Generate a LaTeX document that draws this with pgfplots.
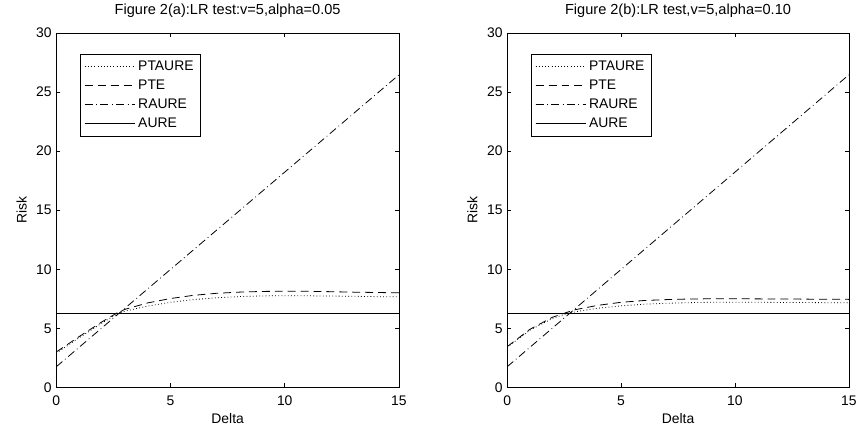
\documentclass[border=0pt]{standalone}
\usepackage{pgfplots}
\pgfplotsset{compat=1.18}
\usepackage{fontspec}
\setmainfont{Liberation Sans}
\begin{document}
\pgfplotsset{
  mystyle/.style={
    scale only axis,
    width=258.75pt, height=267.75pt,
    xmin=0, xmax=15, ymin=0, ymax=30,
    xtick={0,5,10,15}, ytick={0,5,10,15,20,25,30},
    tick align=inside, major tick length=3pt,
    tick style={black, line width=0.5pt},
    axis line style={line width=0.5pt},
    /pgf/number format/assume math mode=true,
    every tick label/.append style={font=\fontsize{10.5}{12}\selectfont},
    xticklabel style={yshift=-3pt},
    xlabel={Delta}, ylabel={Risk},
    xlabel style={at={(axis description cs:0.5,-0.1008)}, anchor=base, font=\fontsize{10.5}{12}\selectfont},
    ylabel style={at={(axis description cs:-0.087,0.5)}, anchor=base, font=\fontsize{10.5}{12}\selectfont},
    title style={at={(axis description cs:0.5,1)}, anchor=base, yshift=7.5pt, font=\fontsize{11}{13}\selectfont},
    legend image code/.code={\draw[#1] (0pt,0pt) -- (34pt,0pt); \path (0pt,0pt) -- (38pt,0pt);},
    legend cell align=left,
    legend style={at={(axis description cs:0.0696,0.941)}, anchor=north west,
      draw=black, line width=0.5pt, font=\fontsize{10.5}{12}\selectfont,
      inner xsep=3pt, inner ysep=2.5pt,
      nodes={inner ysep=2.8pt}},
  },
  ptaure/.style={black, line width=0.6pt, dash pattern=on 0.6pt off 1.8pt},
  pte/.style={black, line width=0.6pt, dash pattern=on 6pt off 3.75pt},
  raure/.style={black, line width=0.6pt, dash pattern=on 6pt off 2.6pt on 0.6pt off 2.6pt},
  aure/.style={black, line width=0.6pt, solid},
}
\begin{tikzpicture}
\path (-39.75pt,-32.25pt) rectangle (606pt,291.75pt);
\begin{axis}[mystyle, at={(0pt,0pt)}, anchor=south west,
  title={Figure 2(a):LR test:v=5,alpha=0.05}]
\addplot[ptaure] coordinates {(0,2.9) (1,4.2) (2,5.45) (2.7,6.25) (3,6.45) (4,6.88) (5,7.2) (6,7.43) (7,7.58) (8,7.68) (9,7.74) (10,7.76) (11,7.75) (12,7.73) (13,7.71) (14,7.68) (15,7.66)};
\addlegendentry{PTAURE}
\addplot[pte] coordinates {(0,3.0) (1,4.3) (2,5.55) (2.7,6.35) (3,6.6) (4,7.15) (5,7.52) (6,7.79) (7,7.96) (8,8.06) (9,8.12) (10,8.14) (11,8.13) (12,8.1) (13,8.06) (14,8.03) (15,8.0)};
\addlegendentry{PTE}
\addplot[raure] coordinates {(0,1.75) (15,26.45)};
\addlegendentry{RAURE}
\addplot[aure] coordinates {(0,6.25) (15,6.25)};
\addlegendentry{AURE}
\end{axis}
\begin{axis}[mystyle, at={(340.5pt,0pt)}, anchor=south west, width=258pt,
  title={Figure 2(b):LR test,v=5,alpha=0.10}]
\addplot[ptaure] coordinates {(0,3.4) (1,4.85) (2,5.85) (2.7,6.3) (3.3,6.5) (4,6.7) (5,6.9) (6,7.04) (7,7.12) (8,7.17) (9,7.2) (10,7.2) (11,7.2) (12,7.19) (13,7.18) (14,7.17) (15,7.16)};
\addlegendentry{PTAURE}
\addplot[pte] coordinates {(0,3.45) (1,4.92) (2,5.95) (2.7,6.4) (3,6.58) (4,6.95) (5,7.2) (6,7.35) (7,7.43) (8,7.48) (9,7.5) (10,7.5) (11,7.49) (12,7.48) (13,7.47) (14,7.46) (15,7.45)};
\addlegendentry{PTE}
\addplot[raure] coordinates {(0,1.75) (15,26.45)};
\addlegendentry{RAURE}
\addplot[aure] coordinates {(0,6.25) (15,6.25)};
\addlegendentry{AURE}
\end{axis}
\end{tikzpicture}
\end{document}
